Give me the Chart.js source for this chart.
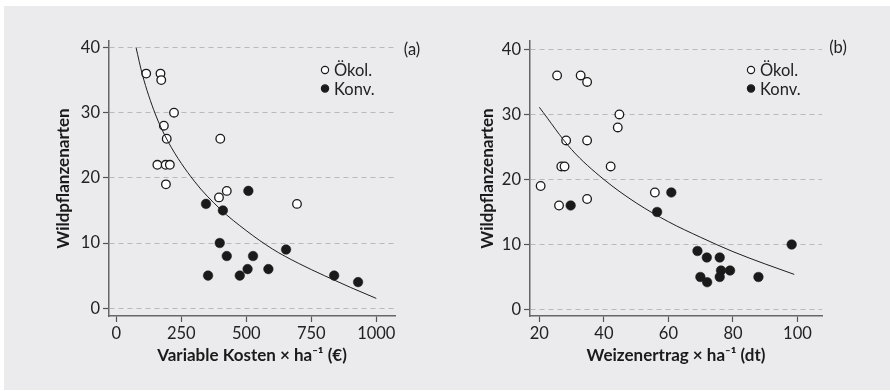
<!DOCTYPE html>
<html>
<head>
<meta charset="utf-8">
<script src="https://cdn.jsdelivr.net/npm/chart.js@4.4.1/dist/chart.umd.min.js"></script>
<style>
  html, body { margin: 0; padding: 0; background: #fff; }
  #page { position: relative; width: 890px; height: 391px; overflow: hidden; }
  #panel { position: absolute; left: 4px; top: 6px; width: 886px; height: 384px; background: #ebebed; }
  canvas { position: absolute; top: 0; }
  #chartA { left: 0; }
  #chartB { left: 445px; }
</style>
</head>
<body>
<div id="page">
  <div id="panel"></div>
  <canvas id="chartA" width="445" height="391"></canvas>
  <canvas id="chartB" width="445" height="391"></canvas>
</div>
<script>
// (a) Wildpflanzenarten vs. variable Kosten
const kostenOeko = [115, 170, 173, 222, 183, 194, 400, 158, 190, 206, 191, 395, 425, 695];
const artenOekoA = [36, 36, 35, 30, 28, 26, 26, 22, 22, 22, 19, 17, 18, 16];
const kostenKonv = [345, 410, 508, 398, 425, 526, 353, 475, 505, 585, 653, 838, 930];
const artenKonvA = [16, 15, 18, 10, 8, 8, 5, 5, 6, 6, 9, 5, 4];
// fitted curve
const fitKostenX = [76, 100, 150, 200, 300, 400, 500, 600, 700, 800, 900, 1000];
const fitKostenY = [40, 35.9, 29.8, 25.5, 19.5, 15.2, 11.9, 9.1, 6.9, 5.0, 3.2, 1.5];
const kostenTicks = [0, 250, 500, 750, 1000];

// (b) Wildpflanzenarten vs. Weizenertrag
const ertragOeko = [25.5, 32.8, 34.8, 44.8, 44.3, 28.3, 34.8, 26.8, 27.8, 42.1, 20.4, 26.1, 34.8, 55.8];
const artenOekoB = [36, 36, 35, 30, 28, 26, 26, 22, 22, 22, 19, 16, 17, 18];
const ertragKonv = [29.7, 60.9, 56.5, 69, 71.9, 75.9, 76.3, 79.1, 69.9, 75.9, 72, 87.9, 98.2];
const artenKonvB = [16, 18, 15, 9, 8, 8, 6, 6, 5, 5, 4.2, 5, 10];
const fitErtragX = [20, 30, 40, 50, 60, 70, 80, 90, 99];
const fitErtragY = [31.1, 24.6, 20.0, 16.4, 13.5, 11.1, 8.9, 7.0, 5.4];
const ertragTicks = [20, 40, 60, 80, 100];

const artenTicks = [0, 10, 20, 30, 40];
const legendLabels = ['Ökol.', 'Konv.'];

const FONT = 'Lato, "Open Sans", sans-serif';
const toPoints = (xs, ys) => xs.map((x, i) => ({ x: x, y: ys[i] }));

// draws the little legend and the (a)/(b) tag inside the plot
const cornerPlugin = {
  id: 'corner',
  afterDraw(chart, args, opts) {
    const ctx = chart.ctx;
    ctx.save();
    ctx.font = '16.5px ' + FONT;
    ctx.fillStyle = '#222';
    ctx.textBaseline = 'middle';
    ctx.textAlign = 'center';
    ctx.fillText(opts.tag, opts.tagX, opts.tagY);
    ctx.textAlign = 'left';
    chart.data.datasets.filter(d => d.inLegend).forEach((d, i) => {
      const y = opts.legY + i * 18.5;
      ctx.beginPath();
      ctx.arc(opts.legX, y, 3.6, 0, Math.PI * 2);
      ctx.fillStyle = d.backgroundColor;
      ctx.fill();
      ctx.lineWidth = 1.2;
      ctx.strokeStyle = '#1a1a1a';
      ctx.stroke();
      ctx.fillStyle = '#222';
      ctx.fillText(d.label, opts.legX + 9, y + 1);
    });
    ctx.restore();
  }
};

function makeChart(id, c) {
  return new Chart(document.getElementById(id), {
    type: 'scatter',
    data: {
      datasets: [
        {
          label: 'fit',
          data: toPoints(c.fitX, c.fitY),
          showLine: true,
          pointRadius: 0,
          borderColor: '#1e1e1e',
          borderWidth: 1,
          cubicInterpolationMode: 'monotone',
        },
        {
          label: legendLabels[0],
          inLegend: true,
          data: toPoints(c.oekoX, c.oekoY),
          pointRadius: 4.3,
          pointBorderWidth: 1.3,
          backgroundColor: '#ffffff',
          borderColor: '#1a1a1a',
        },
        {
          label: legendLabels[1],
          inLegend: true,
          data: toPoints(c.konvX, c.konvY),
          pointRadius: 4.8,
          pointBorderWidth: 0.5,
          backgroundColor: '#1a1a1a',
          borderColor: '#1a1a1a',
        },
      ],
    },
    options: {
      responsive: false,
      animation: false,
      devicePixelRatio: 1,
      layout: { padding: c.padding },
      plugins: {
        legend: { display: false },
        tooltip: { enabled: false },
        corner: c.corner,
      },
      scales: {
        x: {
          type: 'linear',
          min: c.xMin,
          max: c.xMax,
          afterBuildTicks: s => { s.ticks = c.xTicks.map(v => ({ value: v })); },
          afterFit: s => { s.height = 50; },
          ticks: {
            font: { family: FONT, size: 16.5 },
            color: '#222',
            padding: 2,
            maxRotation: 0,
            callback: v => String(v),
          },
          grid: { drawOnChartArea: false, drawTicks: true, tickLength: 6, tickColor: '#555', tickWidth: 1.2 },
          border: { display: true, color: '#666', width: 1.5 },
          title: {
            display: true,
            text: c.xTitle,
            font: { family: FONT, size: 17, weight: 'bold' },
            color: '#1a1a1a',
            padding: 0,
          },
        },
        y: {
          type: 'linear',
          min: c.yMin,
          max: c.yMax,
          afterBuildTicks: s => { s.ticks = artenTicks.map(v => ({ value: v })); },
          afterFit: s => { s.width = c.yWidth; },
          ticks: { font: { family: FONT, size: 16.5 }, color: '#222', padding: 3, callback: v => String(v) },
          grid: {
            color: '#b9b9bb',
            lineWidth: 1,
            borderDash: [5, 4],
            tickLength: 6,
            tickColor: '#555',
            tickWidth: 1.2,
            tickBorderDash: [],
          },
          border: { display: true, color: '#666', width: 1.5, dash: [5, 4] },
          title: {
            display: true,
            text: 'Wildpflanzenarten',
            font: { family: FONT, size: 17, weight: 'bold' },
            color: '#1a1a1a',
            padding: 0,
          },
        },
      },
    },
    plugins: [cornerPlugin],
  });
}

makeChart('chartA', {
  oekoX: kostenOeko, oekoY: artenOekoA,
  konvX: kostenKonv, konvY: artenKonvA,
  fitX: fitKostenX, fitY: fitKostenY,
  xTicks: kostenTicks, xMin: -28, xMax: 1072,
  yMin: -1.2, yMax: 41,
  xTitle: 'Variable Kosten × ha⁻¹ (€)',
  padding: { left: 53, right: 50, top: 41, bottom: 25 },
  yWidth: 56,
  corner: { tag: '(a)', tagX: 412, tagY: 50, legX: 325, legY: 70 },
});

makeChart('chartB', {
  oekoX: ertragOeko, oekoY: artenOekoB,
  konvX: ertragKonv, konvY: artenKonvB,
  fitX: fitErtragX, fitY: fitErtragY,
  xTicks: ertragTicks, xMin: 17.1, xMax: 107.6,
  yMin: -1.0, yMax: 41.3,
  xTitle: 'Weizenertrag × ha⁻¹ (dt)',
  padding: { left: 32, right: 68, top: 41, bottom: 25 },
  yWidth: 53,
  corner: { tag: '(b)', tagX: 393, tagY: 48, legX: 306, legY: 70 },
});
</script>
</body>
</html>
